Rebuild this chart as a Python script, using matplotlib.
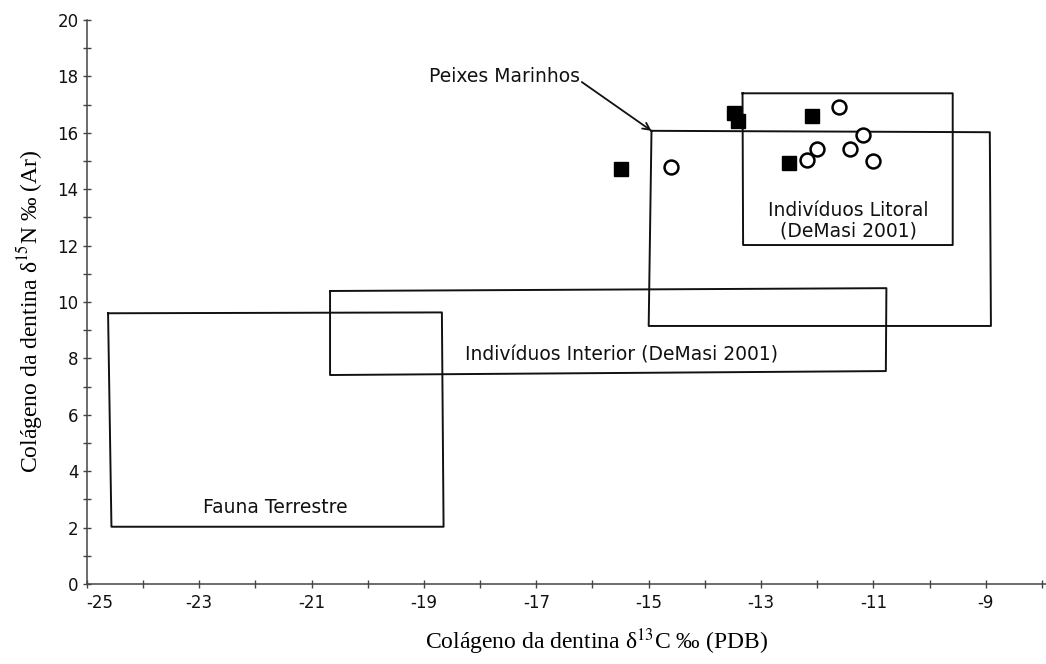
import matplotlib
matplotlib.use("Agg")
from matplotlib import pyplot as plt
import numpy as np

plt.rcParams["mathtext.fontset"] = "stix"

# amostras - quadrados cheios
sq_x = [-15.50, -13.49, -13.41, -12.10, -12.50]
sq_y = [14.71, 16.71, 16.42, 16.61, 14.92]
# amostras - circulos abertos
ci_x = [-14.60, -11.61, -12.01, -12.19, -11.41, -11.19, -11.00]
ci_y = [14.80, 16.90, 15.43, 15.02, 15.43, 15.92, 15.01]

# caixas (sup-esq, sup-dir, inf-dir, inf-esq)
fauna_x = [-24.62, -18.68, -18.65, -24.56]
fauna_y = [9.60, 9.63, 2.03, 2.03]
interior_x = [-20.67, -10.77, -10.78, -20.67]
interior_y = [10.39, 10.49, 7.55, 7.41]
marinhos_x = [-14.95, -8.93, -8.91, -15.00]
marinhos_y = [16.07, 16.02, 9.15, 9.15]
litoral_x = [-13.33, -9.59, -9.59, -13.32]
litoral_y = [17.40, 17.40, 12.02, 12.02]

x_major = [-25, -23, -21, -19, -17, -15, -13, -11, -9]
x_minor = [-24, -22, -20, -18, -16, -14, -12, -10, -8]
y_major = [0, 2, 4, 6, 8, 10, 12, 14, 16, 18, 20]
y_minor = [1, 3, 5, 7, 9, 11, 13, 15, 17, 19]

fig = plt.figure(figsize=(10.46, 6.64), dpi=100)
ax = fig.add_axes([0.0829, 0.1205, 0.9171, 0.8494])
ax.set_xlim(-25, -7.93)
ax.set_ylim(0, 20)

for bx, by in [(fauna_x, fauna_y), (interior_x, interior_y),
               (marinhos_x, marinhos_y), (litoral_x, litoral_y)]:
    ax.plot(bx + bx[:1], by + by[:1], color="#111111", lw=1.4, zorder=2)

ax.plot(sq_x, sq_y, "s", color="black", ms=10, zorder=4, clip_on=False)
ax.plot(ci_x, ci_y, "o", mfc="white", mec="black", mew=1.8, ms=10, zorder=4)

bfont = dict(family="DejaVu Sans", fontsize=13.5, color="#111111")
ax.text(-21.64, 2.70, "Fauna Terrestre", ha="center", va="center", **bfont)
ax.text(-15.48, 8.12, "Indivíduos Interior (DeMasi 2001)", ha="center", va="center", **bfont)
ax.text(-11.44, 12.88, "Indivíduos Litoral\n(DeMasi 2001)", ha="center", va="center",
        multialignment="center", linespacing=1.05, **bfont)
ax.text(-17.57, 18.01, "Peixes Marinhos", ha="center", va="center", **bfont)
ax.annotate("", xy=(-14.95, 16.07), xytext=(-16.19, 17.80),
            arrowprops=dict(arrowstyle="->,head_length=0.5,head_width=0.25",
                            color="#111111", lw=1.3, shrinkA=0, shrinkB=0))

for s in ["top", "right"]:
    ax.spines[s].set_visible(False)
for s in ["left", "bottom"]:
    ax.spines[s].set_color("#444444")
    ax.spines[s].set_linewidth(1.1)

ax.set_xticks(x_major)
ax.set_xticks(x_minor, minor=True)
ax.set_yticks(y_major)
ax.set_yticks(y_minor, minor=True)
ax.set_xticklabels([str(v) for v in x_major])
ax.set_yticklabels([str(v) for v in y_major])
ax.tick_params(which="both", direction="inout", length=6, width=1, color="#444444",
               labelsize=12, labelcolor="#111111")
ax.tick_params(axis="x", pad=4)
ax.tick_params(axis="y", pad=3)
ax.get_xticklabels()[0].set_horizontalalignment("left")

ax.set_xlabel("Colágeno da dentina δ$^{13}$C ‰ (PDB)", family="Liberation Serif", fontsize=17)
ax.set_ylabel("Colágeno da dentina δ$^{15}$N ‰ (Ar)", family="Liberation Serif", fontsize=17)
ax.xaxis.set_label_coords(0.532, -0.075)
ax.yaxis.set_label_coords(-0.043, 0.484)

fig.savefig("out.png", dpi=100)
